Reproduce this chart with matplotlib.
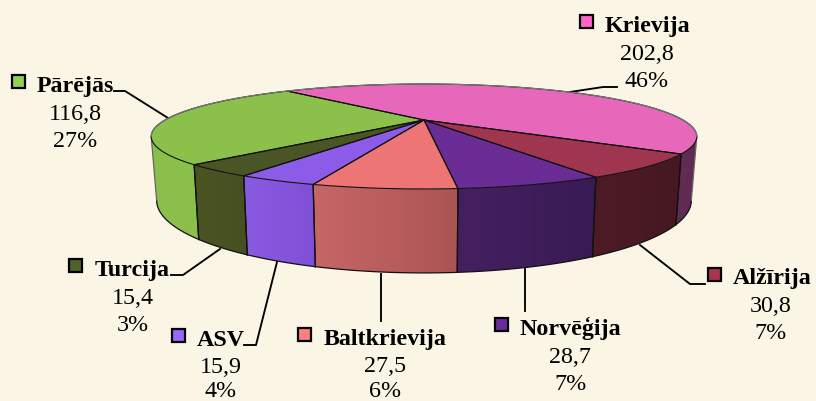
import numpy as np
import matplotlib
matplotlib.use("Agg")
import matplotlib.pyplot as plt
from matplotlib.patches import Polygon, Rectangle
from matplotlib.colors import to_rgb

# ---- data ----
categories = ["Krievija", "Alžīrija", "Norvēģija", "Baltkrievija", "ASV", "Turcija", "Pārējās"]
values = [202.8, 30.8, 28.7, 27.5, 15.9, 15.4, 116.8]
value_labels = ["202,8", "30,8", "28,7", "27,5", "15,9", "15,4", "116,8"]
percent_labels = ["46%", "7%", "7%", "6%", "4%", "3%", "27%"]

# ---- styles ----
top_colors = ["#E767BB", "#A03550", "#6A2C95", "#EE7575", "#8C5BE8", "#495524", "#8BC14A"]
# wall gradient, screen-left colour and screen-right colour
wall_left = ["#622C56", "#4E1B27", "#45205F", "#C86666", "#8A5AE0", "#4A5523", "#8BC14A"]
wall_right = ["#5E2A52", "#451822", "#381B55", "#AC5454", "#7F50D6", "#465022", "#8AC049"]
key_colors = ["#FF66CC", "#AA3355", "#6A2C9F", "#FF8080", "#9966FF", "#4F6228", "#92D050"]
BG = "#FBF5E6"
SERIF = "Liberation Serif"
FS = 17.3

# ---- layout (pixels) ----
CX, CY = 424.0, 121.0
A, B, K = 259.0, 47.3, -0.314
DEPTH, SHRINK = 57.6, 0.98
START = -40.8
text_left = [605, 733, 520, 324, 197, 95, 37]
text_center = [647, 771, 570, 385, 221, 133, 75]
baselines = [(32, 60, 87), (284, 312, 339), (335, 363, 390), (345, 372, 397),
             (346, 373, 397), (276, 304, 331), (92, 120, 147)]
key_box = [(580, 16), (708, 269), (495, 319), (298, 329), (172, 330), (69, 260), (12, 76)]
leaders = [
    [(570, 93), (603, 88), (617, 88)],
    [(640, 246), (690, 285), (705, 285)],
    [(525, 270), (525, 312)],
    [(381, 275), (381, 322)],
    [(277, 263), (256, 346), (244, 346)],
    [(220, 250), (183, 276), (171, 276)],
    [(168, 119), (125, 92), (114, 92)],
]

fig = plt.figure(figsize=(8.16, 4.02), dpi=100, facecolor=BG)
ax = fig.add_axes([0, 0, 1, 1])
ax.axis("off")


def top_point(deg):
    t = np.radians(deg)
    u, v = np.sin(t), -np.cos(t)
    d = 1 + K * v
    return CX + A * u / d, CY + B * v / d


def bottom_point(deg):
    t = np.radians(deg)
    v = -np.cos(t)
    x, y = top_point(deg)
    return CX + SHRINK * (x - CX), y + DEPTH / (1 + K * v)


shares = np.array(values) / np.sum(values) * 360.0
edges = START + np.concatenate([[0], np.cumsum(shares)])

VIS_A = np.degrees(np.arccos(-0.314))
VIS_B = 360 - VIS_A

# walls: a horizontal colour gradient clipped to each wall's outline
for i, (a0, a1) in enumerate(zip(edges[:-1], edges[1:])):
    lo, hi = max(a0, VIS_A), min(a1, VIS_B)
    if hi <= lo:
        continue
    grid = np.linspace(lo, hi, 80)
    outline = [top_point(g) for g in grid] + [bottom_point(g) for g in grid[::-1]]
    poly = Polygon(outline, closed=True, fc="none", ec="none", transform=ax.transData)
    ax.add_patch(poly)
    xs = [p[0] for p in outline]
    ys = [p[1] for p in outline]
    c_l, c_r = np.array(to_rgb(wall_left[i])), np.array(to_rgb(wall_right[i]))
    ramp = np.linspace(0, 1, 256)[None, :, None]
    img = c_l[None, None, :] * (1 - ramp) + c_r[None, None, :] * ramp
    im = ax.imshow(img, extent=(min(xs), max(xs), max(ys), min(ys)), aspect="auto",
                   zorder=2, interpolation="bilinear")
    im.set_clip_path(poly)
    ax.plot(*zip(*[bottom_point(g) for g in grid]), color="#111111", lw=0.9, zorder=3)
    for g in (lo, hi):
        ax.plot(*zip(top_point(g), bottom_point(g)),
                color="#111111" if VIS_A + 0.01 < g < VIS_B - 0.01 else "#666666", lw=0.9, zorder=3)

ax.set_xlim(0, 816)
ax.set_ylim(402, 0)

# top faces
for i, (a0, a1) in enumerate(zip(edges[:-1], edges[1:])):
    grid = np.linspace(a0, a1, max(int(a1 - a0) * 2, 8))
    poly = [(CX, CY)] + [top_point(g) for g in grid]
    ax.add_patch(Polygon(poly, closed=True, fc=top_colors[i], ec="none", zorder=4))
    ax.plot(*zip(*(poly + [(CX, CY)])), color="#111111", lw=0.8, zorder=5, solid_joinstyle="round")

# back rim softer
back = np.linspace(VIS_B, VIS_A + 360, 200)
ax.plot(*zip(*[top_point(g) for g in back]), color="#777777", lw=0.9, zorder=6)

# leaders, keys, labels
for i, name in enumerate(categories):
    ax.plot(*zip(*leaders[i]), color="black", lw=1.35, zorder=1, solid_joinstyle="miter")
    kx, ky = key_box[i]
    ax.add_patch(Rectangle((kx, ky), 13, 13, fc=key_colors[i], ec="black", lw=1.6, zorder=7))
    b0, b1, b2 = baselines[i]
    ax.text(text_left[i], b0, name, family=SERIF, fontsize=FS, fontweight="bold",
            ha="left", va="baseline", color="black", zorder=8)
    ax.text(text_center[i], b1, value_labels[i], family=SERIF, fontsize=FS,
            ha="center", va="baseline", color="black", zorder=8)
    ax.text(text_center[i], b2, percent_labels[i], family=SERIF, fontsize=FS,
            ha="center", va="baseline", color="black", zorder=8)

fig.savefig("out.png", dpi=100, facecolor=BG)
